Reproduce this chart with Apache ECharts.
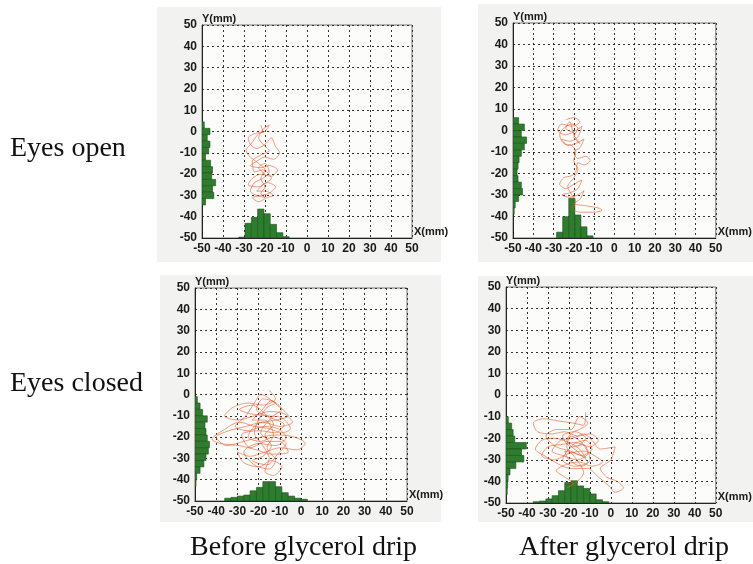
<!DOCTYPE html>
<html style="height: 100%">
<head>
    <meta charset="utf-8">
</head>
<body style="margin:0;background:#fff">
<div id="container" style="width:753px;height:564px;"></div>
<script src="https://cdn.jsdelivr.net/npm/echarts@6.0.0/dist/echarts.min.js"></script>
<script type="text/javascript">
    // bin width (mm) of every histogram
    var BIN = 3;

    // --- eyes open, before glycerol drip ---
    var p1XBins = [-32.5, -29.5, -26.5, -23.5, -20.5, -17.5, -14.5, -11.5];
    var p1XHeights = [0.4, 6.9, 9.7, 13.6, 11.4, 6.4, 2.5, 0.6];
    var p1YBins = [1.5, -1.5, -4.5, -7.5, -10.5, -13.5, -16.5, -19.5, -22.5, -25.5, -28.5, -31.5, -34.5];
    var p1YWidths = [1.1, 3.8, 2.5, 3.8, 3.2, 1.7, 4.1, 5.0, 4.6, 6.5, 5.0, 5.6, 1.7];
    var p1Path = [[-22,3],[-21,0],[-25,-1],[-28,-3],[-27,-6],[-24,-8],[-20,-6],[-17,-3],[-15,-7],[-13,-10],
        [-16,-13],[-20,-12],[-24,-14],[-27,-16],[-22,-17],[-18,-16],[-14,-18],[-17,-21],[-22,-20],[-26,-22],
        [-28,-25],[-23,-26],[-19,-24],[-15,-26],[-18,-29],[-22,-30],[-26,-31],[-23,-33],[-19,-31],[-16,-30],
        [-20,-28],[-24,-28],[-21,-25],[-17,-22],[-21,-18],[-25,-19],[-26,-14],[-22,-11],[-18,-9],[-21,-6],
        [-23,-3],[-21,1],[-18,3],[-20,0],[-23,-1],[-26,-5],[-29,-9],[-27,-12],[-23,-15],[-20,-18],
        [-22,-22],[-20,-26],[-22,-29],[-20,-31],[-24,-30],[-27,-28],[-25,-24],[-21,-22],[-18,-19],[-20,-15],
        [-23,-17],[-20,-20]];

    // --- eyes open, after glycerol drip ---
    var p2XBins = [-28.5, -25.5, -22.5, -19.5, -16.5, -13.5];
    var p2XHeights = [2.7, 9.9, 18.5, 10.7, 5.2, 1.0];
    var p2YBins = [3, 0, -3, -6, -9, -12, -15, -18, -21, -24, -27, -30, -33, -36, -39];
    var p2YWidths = [2.8, 5.6, 4.1, 6.7, 5.6, 4.1, 3.0, 2.5, 2.0, 2.5, 4.1, 4.7, 2.8, 1.1, 0.6];
    var p2Path = [[-24,5],[-20,6],[-17,4],[-21,2],[-26,3],[-28,0],[-24,-2],[-19,0],[-16,2],[-18,-3],
        [-22,-5],[-26,-4],[-23,-7],[-19,-6],[-15,-4],[-17,-8],[-20,-10],[-18,-13],[-14,-12],[-12,-14],
        [-15,-16],[-18,-15],[-19,-19],[-21,-21],[-25,-22],[-27,-25],[-24,-27],[-20,-25],[-16,-23],[-18,-27],
        [-22,-29],[-26,-30],[-22,-31],[-18,-30],[-15,-28],[-17,-32],[-20,-34],[-14,-35],[-8,-36],[-6,-37],
        [-10,-38],[-17,-38],[-21,-36],[-19,-33],[-21,-30],[-23,-26],[-20,-22],[-18,-18],[-20,-14],[-19,-10],
        [-21,-7],[-25,-6],[-27,-2],[-25,1],[-21,3],[-18,1],[-20,-3],[-17,-6],[-20,-2],[-22,4],
        [-24,1],[-20,-1]];

    // --- eyes closed, before glycerol drip ---
    var p3XBins = [-36, -33, -30, -27, -24, -21, -18, -15, -12, -9, -6, -3, 0];
    var p3XHeights = [1.3, 1.7, 2.3, 2.8, 4.8, 6.4, 9.1, 9.1, 6.7, 3.9, 2.3, 1.3, 0.8];
    var p3YBins = [-4, -7, -10, -13, -16, -19, -22, -25, -28, -31, -34, -37, -40, -43];
    var p3YWidths = [1.1, 2.4, 3.6, 5.8, 4.7, 5.2, 5.8, 6.8, 6.3, 5.2, 4.2, 2.4, 0.8, 0.5];
    var p3Path = [[-15,2],[-12,-2],[-18,-5],[-25,-4],[-32,-6],[-36,-10],[-30,-12],[-22,-10],[-15,-8],[-8,-9],
        [-4,-13],[-10,-15],[-18,-13],[-26,-15],[-34,-17],[-40,-20],[-35,-24],[-27,-22],[-19,-20],[-11,-19],
        [-3,-20],[2,-23],[-2,-26],[-10,-25],[-17,-27],[-24,-29],[-30,-27],[-27,-32],[-20,-34],[-14,-31],
        [-9,-34],[-13,-38],[-17,-36],[-15,-30],[-18,-24],[-22,-18],[-20,-12],[-16,-6],[-12,-4],[-18,-2],
        [-21,-7],[-14,-11],[-8,-14],[-12,-18],[-20,-17],[-28,-19],[-24,-25],[-16,-22],[-10,-22],[-6,-27],
        [-14,-28],[-21,-26],[-29,-24],[-38,-23],[-42,-21],[-37,-17],[-29,-13],[-22,-15],[-15,-16],[-9,-18],
        [-5,-16],[-9,-11],[-16,-10],[-24,-9],[-29,-7],[-23,-5],[-17,-9],[-13,-14],[-17,-19],[-14,-24],
        [-18,-29],[-23,-31],[-16,-33],[-11,-28],[-7,-23],[-13,-20],[-19,-22],[-25,-20],[-21,-14],[-12,-12],
        [-6,-10],[-10,-6],[-19,0],[-22,-4],[-26,-10],[-31,-15],[-25,-17],[-18,-15],[-11,-16],[-7,-20],
        [-12,-24],[-20,-23],[-27,-27],[-22,-33],[-15,-35],[-12,-31],[-16,-25],[-13,-19],[-17,-12],[-23,-12],
        [-19,-8],[-14,-3],[-9,-7],[-13,-10],[-19,-18],[-16,-21]];

    // --- eyes closed, after glycerol drip ---
    var p4XBins = [-37, -34, -31, -28, -25, -22, -19, -16, -13, -10, -7, -4];
    var p4XHeights = [0.6, 0.9, 1.9, 3.4, 5.7, 9.5, 10.3, 7.9, 6.7, 4.2, 1.5, 0.6];
    var p4YBins = [-13, -16, -19, -22, -25, -28, -31, -34, -37, -40, -43, -46];
    var p4YWidths = [1.1, 2.7, 3.4, 4.2, 9.7, 7.4, 8.5, 4.7, 1.9, 1.0, 0.8, 0.6];
    var p4Path = [[-12,-8],[-13,-14],[-18,-13],[-25,-12],[-32,-11],[-37,-13],[-35,-17],[-28,-18],[-22,-17],[-16,-19],
        [-10,-18],[-6,-21],[-10,-24],[-17,-22],[-24,-23],[-30,-24],[-33,-28],[-27,-30],[-20,-27],[-13,-26],
        [-8,-28],[-4,-31],[-9,-33],[-15,-31],[-21,-32],[-26,-35],[-22,-38],[-18,-41],[-21,-43],[-16,-40],
        [-13,-36],[-17,-29],[-21,-24],[-19,-19],[-14,-22],[-11,-27],[-16,-30],[-23,-28],[-28,-26],[-24,-21],
        [-18,-20],[-13,-18],[-9,-21],[-5,-25],[2,-24],[0,-30],[-5,-34],[-2,-38],[3,-40],[6,-43],
        [2,-45],[-1,-42],[-6,-38],[-11,-34],[-19,-34],[-25,-32],[-30,-29],[-36,-25],[-33,-21],[-27,-20],
        [-20,-22],[-15,-25],[-12,-29],[-17,-27],[-22,-26],[-20,-30],[-14,-33],[-10,-30],[-13,-23],[-19,-24],
        [-23,-19],[-15,-16],[-11,-13],[-15,-10],[-19,-16],[-26,-16],[-31,-19],[-26,-24],[-19,-26],[-14,-28],
        [-9,-25],[-12,-21],[-18,-23],[-23,-30],[-17,-33],[-11,-31],[-15,-27],[-21,-21],[-17,-17],[-12,-20],
        [-16,-24]];

    var panels = [
        {box: {left: 202, top: 25, width: 210, height: 213}, xb: p1XBins, xh: p1XHeights, yb: p1YBins, yw: p1YWidths, path: p1Path},
        {box: {left: 513, top: 23, width: 213, height: 215}, xb: p2XBins, xh: p2XHeights, yb: p2YBins, yw: p2YWidths, path: p2Path},
        {box: {left: 195, top: 288, width: 212, height: 213}, xb: p3XBins, xh: p3XHeights, yb: p3YBins, yw: p3YWidths, path: p3Path},
        {box: {left: 506, top: 287, width: 213, height: 216}, xb: p4XBins, xh: p4XHeights, yb: p4YBins, yw: p4YWidths, path: p4Path}
    ];

    var labelFont = {color: '#1a1a1a', fontFamily: 'Liberation Sans', fontWeight: 'bold', fontSize: 12};
    var green = '#2e7d2e';

    var grids = [], xAxes = [], yAxes = [], series = [];

    function xHistItem(params, api) {
        var p0 = api.coord([api.value(0), -50]);
        var p1 = api.coord([api.value(0) + BIN, -50 + api.value(1)]);
        return {type: 'rect', shape: {x: p0[0], y: p1[1], width: p1[0] - p0[0], height: p0[1] - p1[1]},
            style: {fill: green, stroke: '#1d4f1d', lineWidth: 0.6}};
    }
    function yHistItem(params, api) {
        var p0 = api.coord([-50, api.value(0)]);
        var p1 = api.coord([-50 + api.value(1), api.value(0) + BIN]);
        return {type: 'rect', shape: {x: p0[0], y: p1[1], width: p1[0] - p0[0], height: p0[1] - p1[1]},
            style: {fill: green, stroke: '#1d4f1d', lineWidth: 0.6}};
    }

    panels.forEach(function (p, i) {
        grids.push({left: p.box.left, top: p.box.top, width: p.box.width, height: p.box.height,
            show: true, backgroundColor: '#fcfcfb', borderColor: '#777', borderWidth: 1});
        xAxes.push({gridIndex: i, type: 'value', min: -50, max: 50, interval: 10,
            name: 'X(mm)', nameLocation: 'end', nameGap: 2,
            nameTextStyle: {color: '#1a1a1a', fontFamily: 'Liberation Sans', fontWeight: 'bold', fontSize: 11, verticalAlign: 'bottom', padding: [0, 0, 1, 0]},
            axisLine: {show: true, onZero: false, lineStyle: {color: '#222', width: 1}},
            axisTick: {show: false},
            axisLabel: Object.assign({margin: 5}, labelFont),
            splitLine: {show: true, lineStyle: {color: '#333', type: [2, 3], width: 1}}});
        yAxes.push({gridIndex: i, type: 'value', min: -50, max: 50, interval: 10,
            name: 'Y(mm)', nameLocation: 'end', nameGap: 1,
            nameTextStyle: {color: '#1a1a1a', fontFamily: 'Liberation Sans', fontWeight: 'bold', fontSize: 11, align: 'left'},
            axisLine: {show: true, onZero: false, lineStyle: {color: '#222', width: 1}},
            axisTick: {show: false},
            axisLabel: Object.assign({margin: 5}, labelFont),
            splitLine: {show: true, lineStyle: {color: '#333', type: [2, 3], width: 1}}});

        series.push({type: 'custom', xAxisIndex: i, yAxisIndex: i, renderItem: xHistItem, clip: true,
            data: p.xb.map(function (b, k) { return [b, p.xh[k]]; })});
        series.push({type: 'custom', xAxisIndex: i, yAxisIndex: i, renderItem: yHistItem, clip: true,
            data: p.yb.map(function (b, k) { return [b, p.yw[k]]; })});
        series.push({type: 'line', xAxisIndex: i, yAxisIndex: i, data: p.path, showSymbol: false,
            smooth: 0.3, lineStyle: {color: '#e15a28', width: 0.7, opacity: 0.85}, z: 5});
    });

    var serif = 'Liberation Serif';
    var option = {
        animation: false,
        backgroundColor: '#ffffff',
        graphic: [
            {type: 'rect', z: -10, shape: {x: 157, y: 7, width: 284, height: 255}, style: {fill: '#f2f2f0'}},
            {type: 'rect', z: -10, shape: {x: 478, y: 4, width: 275, height: 258}, style: {fill: '#f2f2f0'}},
            {type: 'rect', z: -10, shape: {x: 160, y: 275, width: 281, height: 247}, style: {fill: '#f2f2f0'}},
            {type: 'rect', z: -10, shape: {x: 478, y: 276, width: 275, height: 246}, style: {fill: '#f2f2f0'}},
            {type: 'text', left: 10, top: 135, style: {text: 'Eyes open', font: '28px ' + serif, fill: '#111'}},
            {type: 'text', left: 10, top: 370, style: {text: 'Eyes closed', font: '28px ' + serif, fill: '#111'}},
            {type: 'text', left: 190, top: 534, style: {text: 'Before glycerol drip', font: '28px ' + serif, fill: '#111'}},
            {type: 'text', left: 519, top: 534, style: {text: 'After glycerol drip', font: '28px ' + serif, fill: '#111'}}
        ],
        grid: grids,
        xAxis: xAxes,
        yAxis: yAxes,
        series: series
    };

    var myChart = echarts.init(document.getElementById('container'));
    myChart.setOption(option);
</script>
</body>
</html>
